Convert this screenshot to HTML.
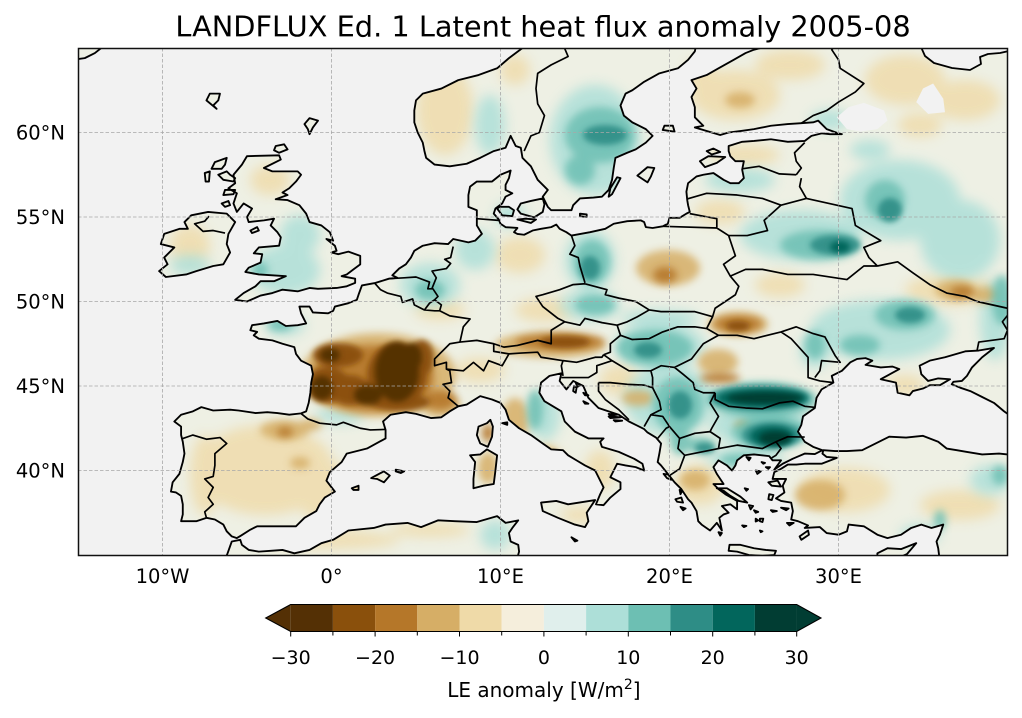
<!DOCTYPE html>
<html><head><meta charset="utf-8"><style>html,body{margin:0;padding:0;background:#fff}svg{display:block}</style></head>
<body>
<svg width="1022" height="718" viewBox="0 0 1022 718" xmlns="http://www.w3.org/2000/svg" font-family="'DejaVu Sans','Liberation Sans',sans-serif">
<defs>
<clipPath id="frameclip"><rect x="78" y="48" width="930" height="508"/></clipPath>
<path id="land" transform="matrix(16.9,0,0,-16.9,331.5,1146.5)" stroke-linejoin="round" d="
M25.4,66 L25.4,65 25.0,64.9 24.5,64.7 23.8,64.3 22.9,63.8 22.2,63.4 21.3,63.1 21.6,62.6 21.3,62.1 21.5,61.5 21.5,60.9 22.0,60.4 21.5,60.3 22.5,60.0 23.0,59.85 23.5,60.0 24.3,60.1 25.0,60.2 26.0,60.4 27.0,60.5 27.8,60.55 28.5,60.6 28.8,60.7 29.3,60.2 30.0,59.95 30.2,59.9 29.5,59.9 29.0,59.95 28.4,59.8 28.0,59.5 27.0,59.45 26.0,59.6 25.0,59.5 24.3,59.45 23.5,59.2 23.5,58.9 23.6,58.6 23.9,58.3 24.4,58.3 24.3,57.8 24.4,57.3 24.1,57.0 23.6,57.0 23.2,57.2 22.6,57.6 22.0,57.5 21.6,57.4 21.1,57.0 21.0,56.5 21.05,56.0 21.1,55.7 21.2,55.3 21.0,55.2 20.6,54.95 20.0,54.95 19.9,54.6 19.6,54.45 19.0,54.35 18.6,54.4 18.5,54.7 18.3,54.8 17.5,54.75 16.7,54.6 16.2,54.3 15.3,54.1 14.2,53.9 13.9,54.1 13.5,54.3 13.3,54.55 13.0,54.4 12.4,54.3 11.9,54.2 11.4,53.95 11.0,54.0 10.8,54.1 11.0,54.35 10.3,54.4 10.0,54.6 9.9,54.85 9.6,55.2 9.7,55.5 10.1,55.8 10.3,56.2 10.7,56.4 10.3,56.6 10.3,56.9 10.5,57.3 10.6,57.75 10.0,57.5 9.5,57.1 8.6,57.1 8.2,56.8 8.1,56.3 8.1,55.6 8.6,55.4 8.6,54.9 8.6,54.5 8.9,54.0 8.5,53.6 8.1,53.5 7.2,53.7 6.9,53.4 6.1,53.45 5.4,53.3 4.9,53.0 4.7,52.6 4.4,52.2 4.0,51.95 3.6,51.55 3.9,51.4 3.4,51.35 2.6,51.1 1.8,50.95 1.6,50.4 1.5,50.1 1.0,49.9 0.2,49.7 0.1,49.45 -0.2,49.3 -1.1,49.35 -1.3,49.7 -1.9,49.7 -1.8,49.3 -1.5,48.7 -2.0,48.6 -2.7,48.55 -3.2,48.85 -4.0,48.7 -4.7,48.6 -4.8,48.3 -4.4,48.2 -4.6,48.0 -4.3,47.8 -3.5,47.7 -2.9,47.5 -2.2,47.3 -2.1,46.9 -1.8,46.5 -1.2,46.2 -1.1,45.7 -1.2,45.2 -1.25,44.6 -1.35,44.0 -1.5,43.5 -1.8,43.38 -2.5,43.3 -3.2,43.4 -3.8,43.45 -4.5,43.4 -5.5,43.55 -6.0,43.6 -7.0,43.55 -7.7,43.75 -8.2,43.5 -8.9,43.3 -9.3,42.9 -8.9,42.6 -8.9,42.1 -8.8,41.7 -8.7,41.0 -8.8,40.5 -9.0,39.8 -9.4,39.3 -9.5,38.75 -9.2,38.7 -8.9,38.5 -8.8,38.0 -8.8,37.4 -8.9,37.0 -8.0,37.0 -7.4,37.2 -6.9,37.1 -6.4,36.8 -6.2,36.4 -5.9,36.1 -5.6,36.0 -5.35,36.15 -4.8,36.5 -4.4,36.7 -3.5,36.7 -2.8,36.7 -2.1,36.7 -1.6,37.2 -0.9,37.6 -0.7,38.0 -0.4,38.4 0.2,38.75 -0.3,39.4 -0.1,39.9 0.6,40.5 0.9,41.0 2.1,41.3 3.2,41.9 3.2,42.4 3.05,42.9 3.5,43.3 4.4,43.45 5.0,43.35 5.9,43.1 6.5,43.15 7.0,43.5 7.5,43.8 8.0,43.9 8.8,44.4 9.5,44.2 10.0,44.0 10.3,43.6 10.5,43.0 11.1,42.5 11.8,42.1 12.5,41.6 13.0,41.25 13.7,41.2 14.0,40.9 14.5,40.6 15.0,40.3 15.6,40.0 15.8,39.6 16.1,39.0 15.9,38.6 15.65,38.0 16.1,37.95 16.5,38.4 17.1,38.9 17.1,39.3 16.5,39.6 16.9,40.4 17.4,40.3 18.0,40.2 18.5,40.0 18.4,40.4 17.9,40.7 17.0,41.1 16.0,41.4 15.9,41.7 16.1,41.9 15.2,41.9 14.4,42.3 13.8,42.9 13.6,43.5 12.6,44.1 12.3,44.6 12.4,45.2 12.9,45.6 13.6,45.75 13.5,45.3 13.9,44.8 14.3,45.3 14.9,45.0 15.2,44.3 15.8,43.7 16.4,43.5 17.0,43.3 17.6,42.9 18.5,42.45 18.7,42.25 19.2,41.95 19.5,41.6 19.4,41.0 19.3,40.5 19.5,40.3 19.9,39.8 20.3,39.3 20.7,38.9 21.1,38.3 21.3,38.1 21.6,37.6 21.7,37.0 21.9,36.8 22.4,36.45 22.8,36.9 23.1,36.45 22.95,37.2 23.2,37.4 23.5,37.5 23.1,37.9 23.6,38.0 24.0,37.7 24.0,38.2 23.3,38.6 22.9,38.9 22.6,39.2 23.2,39.2 22.8,39.8 22.6,40.2 22.9,40.6 23.4,40.3 23.7,40.0 23.9,40.3 24.0,40.6 24.4,40.9 25.0,40.95 25.9,40.85 26.1,40.6 26.6,40.6 26.2,40.05 26.7,40.4 27.3,40.7 28.0,41.0 28.6,40.97 29.05,41.2 28.5,41.4 28.0,41.7 27.6,42.3 27.8,42.7 27.9,43.2 28.6,43.7 28.7,44.3 29.0,44.8 29.7,45.2 29.6,45.6 30.2,45.9 30.7,46.4 31.1,46.6 31.6,46.65 32.0,46.5 31.6,46.25 32.5,46.1 33.2,46.15 33.6,46.0 32.5,45.4 33.4,45.2 33.5,44.6 34.2,44.45 34.4,44.7 35.0,44.85 35.4,45.05 36.0,45.05 36.6,45.4 35.9,45.45 35.3,45.3 34.9,45.7 34.8,46.2 35.4,46.5 36.3,46.7 37.5,47.05 38.3,47.1 39.2,47.25 38.5,46.7 37.9,46.1 37.6,45.6 37.3,45.3 36.8,45.25 36.7,45.1 37.2,44.9 37.8,44.7 38.5,44.35 39.2,44.0 39.8,43.5 40.5,43.0 41,42.8 41,66 Z
M41,41.0 L40.0,40.95 39.5,41.0 38.5,40.95 37.6,41.1 37.0,41.2 36.4,41.3 35.9,41.7 35.0,42.05 34.0,41.95 33.0,42.0 32.2,41.6 31.4,41.2 30.5,41.15 29.8,41.15 29.1,41.2 29.05,41.0 29.3,40.8 29.9,40.75 29.0,40.4 28.0,40.4 27.5,40.35 27.0,40.35 26.6,40.1 26.2,39.9 26.1,39.5 26.9,39.5 26.7,39.1 26.8,38.7 26.3,38.35 26.6,38.2 27.2,38.1 27.3,37.6 27.2,37.1 27.6,37.0 28.2,36.75 28.0,36.6 28.9,36.65 29.3,36.3 30.0,36.2 30.5,36.4 30.6,36.8 31.5,36.7 32.3,36.2 32.9,36.0 33.7,36.2 34.3,36.6 34.9,36.8 35.5,36.6 36.2,36.8 36.0,36.2 35.8,35.8 35.9,35.4 35.95,35.0 35.95,34.5 41,34.5 Z
M11.3,66 L11.3,65.0 10.5,64.4 9.8,63.8 8.7,63.4 7.5,63.1 6.5,62.6 5.4,62.3 5.0,61.9 4.9,61.3 4.9,60.6 5.1,60.0 5.4,59.4 5.5,58.9 5.6,58.5 6.1,58.1 7.0,58.0 8.0,58.15 8.8,58.5 9.6,58.9 10.3,59.1 10.6,59.8 10.9,59.2 11.2,59.1 11.3,58.5 11.8,58.0 12.0,57.6 12.2,57.2 12.8,56.6 12.5,56.2 12.8,55.6 13.0,55.4 14.2,55.4 14.3,55.7 14.7,56.1 15.5,56.15 16.0,56.2 16.4,56.6 16.6,57.2 16.7,57.9 16.8,58.5 17.5,58.8 18.0,59.0 18.6,59.4 19.0,59.8 18.6,60.2 17.8,60.6 17.3,61.0 17.1,61.6 17.4,62.3 17.8,62.5 18.5,63.0 19.4,63.5 20.5,63.8 21.1,64.3 21.5,64.8 21.6,65.3 21.6,66 Z
M-5.0,58.6 L-3.1,58.65 -3.0,58.4 -4.0,57.9 -3.5,57.7 -2.0,57.7 -1.8,57.5 -2.1,57.1 -2.5,56.7 -2.9,56.45 -2.6,56.3 -3.3,56.05 -2.6,56.0 -1.9,55.7 -1.5,55.2 -1.3,54.7 -0.6,54.5 -0.1,54.1 0.1,53.6 -0.3,53.7 0.2,53.3 0.3,53.0 0.0,52.9 0.4,52.8 1.0,52.95 1.7,52.7 1.7,52.2 1.3,51.9 0.9,51.6 0.6,51.5 1.4,51.35 1.4,51.1 0.9,50.9 0.3,50.8 -0.8,50.75 -1.3,50.8 -2.0,50.6 -2.9,50.7 -3.5,50.5 -4.2,50.35 -5.0,50.0 -5.7,50.1 -5.2,50.5 -4.5,50.9 -4.2,51.2 -3.4,51.2 -2.7,51.5 -3.5,51.55 -4.3,51.6 -5.1,51.75 -4.9,52.0 -4.2,52.3 -4.1,52.8 -4.6,52.85 -4.3,53.2 -3.1,53.3 -3.0,53.8 -3.2,54.1 -3.6,54.5 -3.4,54.9 -4.0,54.8 -4.9,54.7 -5.0,55.0 -4.7,55.5 -5.2,55.8 -5.6,55.3 -5.8,55.8 -5.6,56.4 -6.1,56.7 -5.7,57.0 -5.8,57.5 -5.3,58.1 Z
M-7.3,55.3 L-6.2,55.2 -5.7,54.7 -6.1,54.0 -6.2,53.4 -6.0,52.9 -6.4,52.2 -7.0,52.1 -8.0,51.8 -8.6,51.6 -9.8,51.45 -10.2,51.8 -9.7,52.2 -9.9,52.6 -9.3,53.2 -10.1,53.4 -9.9,54.0 -9.0,54.3 -8.5,54.3 -8.7,54.7 -8.3,55.1 Z
M-16,66 L-13.5,66 -13.5,65.1 -14.0,64.7 -14.6,64.4 -16,64.2 Z
M-6.4,34.5 L-6.15,35.1 -5.9,35.8 -5.4,35.9 -5.3,35.6 -4.9,35.3 -4.3,35.2 -3.6,35.25 -2.9,35.3 -2.2,35.1 -1.3,35.3 -0.6,35.7 0.1,35.9 1.0,36.45 2.5,36.6 3.2,36.8 4.5,36.9 5.3,36.65 6.3,37.05 7.3,37.0 8.6,36.95 9.8,37.3 10.3,36.9 11.05,37.05 10.7,36.6 10.5,36.3 10.6,35.8 11.05,35.6 11.1,35.2 10.9,34.5 Z
M-1.3,60.85 L-0.8,60.7 -1.1,60.3 -1.3,59.9 -1.4,60.2 -1.6,60.5Z
M-3.3,59.2 L-2.8,59.3 -2.6,59.0 -3.1,58.8 -3.4,58.95Z
M-7.2,62.3 L-6.6,62.3 -6.7,61.9 -7.0,61.6 -6.8,61.4 -7.4,61.9Z
M-6.2,58.5 L-6.9,58.25 -7.1,57.85 -6.5,57.85 -6.3,58.1Z
M-7.2,57.7 L-7.5,57.6 -7.45,57.1 -7.25,57.1Z
M-6.2,57.7 L-6.7,57.5 -6.4,57.2 -5.8,57.1 -5.7,57.3 -6.0,57.5Z
M-5.7,56.6 L-6.3,56.6 -6.4,56.3 -5.8,56.35Z
M-6.1,55.95 L-6.5,55.8 -6.3,55.6 -6.0,55.7Z
M-4.4,54.4 L-4.8,54.2 -4.7,54.05 -4.3,54.2Z
M9.4,43.0 L9.55,42.6 9.5,42.0 9.25,41.4 8.8,41.6 8.6,42.1 8.7,42.6 9.2,42.8Z
M9.2,41.25 L9.8,40.9 9.7,40.0 9.6,39.2 9.0,39.1 8.4,38.95 8.4,39.5 8.5,40.5 8.2,40.9 8.8,40.95Z
M12.4,38.1 L13.3,38.2 14.0,38.0 15.6,38.25 15.1,37.5 15.2,37.0 15.0,36.65 14.4,36.8 13.4,37.2 12.5,37.6Z
M2.35,39.55 L3.1,39.95 3.45,39.7 3.1,39.3 2.7,39.5Z
M3.8,40.05 L4.3,39.95 4.1,39.85 3.8,39.95Z
M1.2,38.95 L1.6,39.1 1.6,38.85 1.3,38.85Z
M14.2,36.05 L14.55,35.85 14.4,35.8Z
M10.1,42.8 L10.4,42.85 10.4,42.7Z
M23.55,35.6 L24.2,35.6 25.0,35.4 25.7,35.3 26.3,35.25 26.2,35.0 25.5,34.95 24.7,35.0 24.0,35.2 23.5,35.25Z
M32.3,35.1 L32.9,35.4 33.7,35.35 34.6,35.7 34.05,35.05 33.0,34.6 32.3,34.8Z
M27.7,36.1 L28.2,36.45 28.25,36.2 27.8,35.9Z
M22.8,38.95 L23.4,38.95 24.2,38.45 24.6,38.1 24.1,38.2 23.6,38.5 23.2,38.8Z
M25.85,39.3 L26.4,39.4 26.6,39.05 26.05,39.1Z
M25.9,38.6 L26.15,38.55 26.05,38.25 25.85,38.3Z
M26.6,37.8 L27.05,37.75 26.9,37.65Z
M26.0,37.65 L26.35,37.6 26.1,37.55Z
M26.95,36.9 L27.35,36.9 27.1,36.75Z
M25.35,37.15 L25.55,37.15 25.5,36.95 25.35,37.0Z
M25.1,37.15 L25.25,37.05 25.1,36.98Z
M24.7,37.95 L24.95,37.9 24.8,37.7Z
M25.0,37.65 L25.25,37.55 25.1,37.5Z
M24.3,36.75 L24.55,36.72 24.4,36.65Z
M25.35,36.45 L25.5,36.4 25.4,36.35Z
M22.9,36.35 L23.1,36.3 23.0,36.15Z
M20.35,38.3 L20.7,38.4 20.8,38.1 20.45,38.15Z
M20.65,37.85 L20.95,37.75 20.8,37.65Z
M19.65,39.8 L19.95,39.75 20.1,39.45 19.85,39.55Z
M20.6,38.85 L20.75,38.8 20.65,38.6Z
M24.55,40.8 L24.8,40.75 24.7,40.6Z
M25.1,40.0 L25.4,39.95 25.2,39.8Z
M24.45,38.95 L24.65,38.9 24.55,38.8Z
M25.45,40.5 L25.65,40.45 25.55,40.4Z
M25.7,40.2 L25.95,40.2 25.85,40.1Z
M14.45,45.2 L14.75,45.05 14.55,44.95Z
M14.35,45.0 L14.5,44.9 14.45,44.6 14.3,44.7Z
M14.9,44.6 L15.2,44.45 15.0,44.45Z
M16.4,43.35 L16.9,43.3 16.5,43.25Z
M16.4,43.2 L17.1,43.15 16.5,43.1Z
M16.7,42.98 L17.2,42.95 16.8,42.9Z
M14.9,44.1 L15.2,43.95 15.0,43.95Z
M18.1,57.45 L18.7,57.05 18.9,57.4 19.1,57.9 18.7,57.95 18.4,57.7Z
M16.4,56.2 L16.6,56.35 17.1,57.3 16.9,57.35 16.5,56.7Z
M14.7,55.2 L15.1,55.15 15.1,55.0 14.7,55.05Z
M11.0,55.45 L11.2,55.2 12.0,54.98 12.5,55.3 12.6,55.75 12.5,56.1 11.8,55.95 11.2,55.8Z
M9.8,55.5 L10.1,55.1 10.7,55.05 10.8,55.4 10.5,55.6 9.95,55.6Z
M11.0,54.85 L11.8,54.65 12.1,54.85 11.5,54.9Z
M21.8,58.3 L22.3,58.6 23.3,58.55 22.8,58.2 22.1,57.95Z
M22.2,58.9 L22.6,59.05 23.0,58.85 22.5,58.7Z
M19.6,60.15 L20.3,60.05 20.2,60.4 19.7,60.4Z
"/>
<clipPath id="landclip"><use href="#land"/></clipPath>
<filter id="b6" x="-20%" y="-20%" width="140%" height="140%"><feGaussianBlur stdDeviation="6"/></filter>
<filter id="b4" x="-20%" y="-20%" width="140%" height="140%"><feGaussianBlur stdDeviation="4"/></filter>
<filter id="b3" x="-20%" y="-20%" width="140%" height="140%"><feGaussianBlur stdDeviation="3"/></filter>
</defs>

<rect width="1022" height="718" fill="#fff"/>
<text x="543" y="36.5" font-size="28.8" text-anchor="middle" fill="#000">LANDFLUX Ed. 1 Latent heat flux anomaly 2005-08</text>

<g clip-path="url(#frameclip)">
<rect x="78" y="48" width="930" height="508" fill="#f2f2f2"/>
<g clip-path="url(#landclip)">
<rect x="60" y="40" width="960" height="520" fill="#eef0e4"/>
<g filter="url(#b6)" fill="#efdaa8" opacity="0.8">
<ellipse cx="445" cy="110" rx="28" ry="45"/><ellipse cx="515" cy="70" rx="15" ry="15"/><ellipse cx="735" cy="95" rx="45" ry="25"/><ellipse cx="790" cy="65" rx="35" ry="15"/><ellipse cx="700" cy="75" rx="15" ry="15"/><ellipse cx="905" cy="80" rx="40" ry="25"/><ellipse cx="965" cy="100" rx="35" ry="20"/><ellipse cx="920" cy="125" rx="22" ry="12"/><ellipse cx="745" cy="155" rx="35" ry="10"/><ellipse cx="720" cy="212" rx="25" ry="12"/><ellipse cx="520" cy="255" rx="25" ry="18"/><ellipse cx="545" cy="310" rx="30" ry="12"/><ellipse cx="440" cy="310" rx="25" ry="10"/><ellipse cx="265" cy="470" rx="70" ry="45"/><ellipse cx="340" cy="495" rx="45" ry="30"/><ellipse cx="205" cy="475" rx="15" ry="40"/><ellipse cx="330" cy="540" rx="70" ry="9"/><ellipse cx="430" cy="530" rx="40" ry="7"/><ellipse cx="540" cy="470" rx="25" ry="25"/><ellipse cx="600" cy="470" rx="15" ry="20"/><ellipse cx="580" cy="515" rx="20" ry="8"/><ellipse cx="780" cy="285" rx="25" ry="12"/><ellipse cx="950" cy="290" rx="45" ry="15"/><ellipse cx="845" cy="490" rx="45" ry="22"/><ellipse cx="960" cy="505" rx="40" ry="15"/><ellipse cx="700" cy="485" rx="25" ry="20"/><ellipse cx="905" cy="385" rx="20" ry="10"/><ellipse cx="190" cy="245" rx="20" ry="20"/><ellipse cx="270" cy="180" rx="20" ry="15"/><ellipse cx="620" cy="380" rx="20" ry="15"/><ellipse cx="480" cy="370" rx="25" ry="12"/>
</g>
<g filter="url(#b6)" fill="#addfd8" opacity="0.85">
<ellipse cx="285" cy="270" rx="35" ry="25"/><ellipse cx="260" cy="265" rx="12" ry="10"/><ellipse cx="300" cy="235" rx="20" ry="20"/><ellipse cx="190" cy="265" rx="20" ry="10"/><ellipse cx="285" cy="325" rx="20" ry="10"/><ellipse cx="430" cy="285" rx="30" ry="22"/><ellipse cx="510" cy="215" rx="15" ry="12"/><ellipse cx="595" cy="140" rx="45" ry="55"/><ellipse cx="490" cy="125" rx="15" ry="30"/><ellipse cx="740" cy="180" rx="35" ry="12"/><ellipse cx="800" cy="235" rx="60" ry="25"/><ellipse cx="900" cy="200" rx="60" ry="40"/><ellipse cx="960" cy="240" rx="40" ry="40"/><ellipse cx="880" cy="330" rx="70" ry="30"/><ellipse cx="590" cy="305" rx="30" ry="15"/><ellipse cx="660" cy="345" rx="45" ry="22"/><ellipse cx="670" cy="400" rx="45" ry="35"/><ellipse cx="545" cy="415" rx="15" ry="25"/><ellipse cx="745" cy="458" rx="40" ry="10"/><ellipse cx="990" cy="480" rx="20" ry="15"/><ellipse cx="920" cy="535" rx="20" ry="10"/><ellipse cx="495" cy="535" rx="15" ry="15"/><ellipse cx="340" cy="415" rx="25" ry="8"/><ellipse cx="475" cy="250" rx="20" ry="20"/><ellipse cx="590" cy="260" rx="25" ry="30"/><ellipse cx="830" cy="120" rx="20" ry="10"/><ellipse cx="995" cy="320" rx="15" ry="40"/><ellipse cx="660" cy="318" rx="40" ry="8"/><ellipse cx="870" cy="150" rx="20" ry="10"/><ellipse cx="815" cy="350" rx="15" ry="18"/><ellipse cx="760" cy="425" rx="50" ry="22"/>
</g>
<g filter="url(#b4)" fill="#d6ae66" opacity="0.85">
<ellipse cx="668" cy="268" rx="32" ry="18"/><ellipse cx="285" cy="430" rx="25" ry="10"/><ellipse cx="310" cy="425" rx="12" ry="6"/><ellipse cx="515" cy="420" rx="14" ry="22"/><ellipse cx="548" cy="462" rx="12" ry="15"/><ellipse cx="488" cy="468" rx="10" ry="16"/><ellipse cx="955" cy="290" rx="20" ry="10"/><ellipse cx="718" cy="362" rx="20" ry="13"/><ellipse cx="820" cy="495" rx="25" ry="15"/><ellipse cx="695" cy="480" rx="15" ry="10"/><ellipse cx="638" cy="398" rx="16" ry="8"/><ellipse cx="378" cy="375" rx="78" ry="42"/><ellipse cx="550" cy="345" rx="55" ry="13"/><ellipse cx="738" cy="324" rx="30" ry="12"/><ellipse cx="985" cy="295" rx="15" ry="8"/><ellipse cx="740" cy="100" rx="15" ry="8"/><ellipse cx="300" cy="463" rx="10" ry="6"/><ellipse cx="440" cy="405" rx="20" ry="12"/><ellipse cx="743" cy="425" rx="8" ry="5"/>
</g>
<g filter="url(#b4)" fill="#6dbfb3" opacity="0.85">
<ellipse cx="600" cy="135" rx="35" ry="28"/><ellipse cx="580" cy="170" rx="15" ry="15"/><ellipse cx="592" cy="262" rx="18" ry="22"/><ellipse cx="820" cy="245" rx="40" ry="15"/><ellipse cx="885" cy="200" rx="20" ry="20"/><ellipse cx="1002" cy="300" rx="10" ry="25"/><ellipse cx="905" cy="315" rx="30" ry="15"/><ellipse cx="860" cy="345" rx="20" ry="10"/><ellipse cx="595" cy="305" rx="20" ry="10"/><ellipse cx="655" cy="348" rx="38" ry="18"/><ellipse cx="678" cy="405" rx="25" ry="28"/><ellipse cx="762" cy="400" rx="55" ry="18"/><ellipse cx="770" cy="432" rx="38" ry="16"/><ellipse cx="700" cy="445" rx="15" ry="8"/><ellipse cx="535" cy="410" rx="8" ry="20"/><ellipse cx="280" cy="325" rx="12" ry="6"/><ellipse cx="430" cy="290" rx="15" ry="10"/><ellipse cx="680" cy="440" rx="10" ry="15"/><ellipse cx="1000" cy="475" rx="8" ry="10"/><ellipse cx="940" cy="520" rx="6" ry="10"/><ellipse cx="260" cy="270" rx="8" ry="8"/><ellipse cx="815" cy="345" rx="10" ry="14"/><ellipse cx="740" cy="460" rx="20" ry="6"/>
</g>
<g filter="url(#b4)" fill="#b57729" opacity="0.9">
<ellipse cx="372" cy="378" rx="62" ry="33"/><ellipse cx="440" cy="400" rx="16" ry="10"/><ellipse cx="560" cy="342" rx="45" ry="8"/><ellipse cx="738" cy="324" rx="24" ry="8"/><ellipse cx="665" cy="275" rx="12" ry="8"/><ellipse cx="720" cy="378" rx="20" ry="5"/><ellipse cx="488" cy="433" rx="6" ry="9"/><ellipse cx="962" cy="292" rx="12" ry="6"/><ellipse cx="285" cy="432" rx="8" ry="5"/>
</g>
<g filter="url(#b3)" fill="#2e8d86" opacity="0.9">
<ellipse cx="605" cy="135" rx="22" ry="10"/><ellipse cx="590" cy="268" rx="10" ry="12"/><ellipse cx="835" cy="245" rx="25" ry="10"/><ellipse cx="890" cy="210" rx="12" ry="12"/><ellipse cx="910" cy="315" rx="15" ry="8"/><ellipse cx="680" cy="405" rx="12" ry="14"/><ellipse cx="648" cy="350" rx="14" ry="8"/><ellipse cx="760" cy="398" rx="50" ry="13"/><ellipse cx="772" cy="435" rx="30" ry="13"/><ellipse cx="705" cy="448" rx="10" ry="5"/>
</g>
<g filter="url(#b3)" fill="#8a500c" opacity="0.95">
<ellipse cx="328" cy="385" rx="22" ry="18"/><ellipse cx="338" cy="355" rx="25" ry="12"/><ellipse cx="397" cy="375" rx="30" ry="32"/><ellipse cx="400" cy="402" rx="30" ry="9"/><ellipse cx="350" cy="390" rx="20" ry="15"/><ellipse cx="422" cy="358" rx="12" ry="18"/><ellipse cx="565" cy="342" rx="25" ry="6"/><ellipse cx="738" cy="326" rx="12" ry="5"/>
</g>
<g filter="url(#b3)" fill="#02665c">
<ellipse cx="762" cy="398" rx="45" ry="9"/><ellipse cx="772" cy="436" rx="22" ry="10"/><ellipse cx="840" cy="247" rx="10" ry="6"/>
</g>
<g filter="url(#b3)" fill="#543005">
<ellipse cx="397" cy="372" rx="22" ry="30"/><ellipse cx="412" cy="357" rx="10" ry="14"/><ellipse cx="322" cy="388" rx="11" ry="12"/><ellipse cx="368" cy="395" rx="14" ry="10"/><ellipse cx="330" cy="355" rx="10" ry="7"/>
</g>
<g filter="url(#b3)" fill="#013d33">
<ellipse cx="765" cy="398" rx="38" ry="6"/><ellipse cx="775" cy="438" rx="16" ry="7"/>
</g>
</g>
<g transform="matrix(16.9,0,0,-16.9,331.5,1146.5)" fill="#f2f2f2">
<path d="M29.9,60.9 L30.6,61.5 31.5,61.75 32.7,61.3 32.9,60.7 32.3,60.2 31.3,60.05 30.5,60.2Z"/>
<path d="M34.6,61.8 L35.3,61.1 36.3,61.2 36.2,62.0 35.6,62.9 35.0,62.6Z"/>
</g>
<path d="M921,47 L925,56 934,63 952,68 970,70 981,64 980,57 988,54 1000,53 1009,51 1009,47Z" fill="#f2f2f2" stroke="#000" stroke-width="1.8" stroke-linejoin="round"/>
<use href="#land" fill="none" stroke="#000" stroke-width="0.11"/>
<path transform="matrix(16.9,0,0,-16.9,331.5,1146.5)" fill="none" stroke="#000" stroke-width="0.1" stroke-linejoin="round" d="
M-8.87,41.87 L-8.2,42.1 -7.4,41.85 -6.6,41.95 -6.2,41.6 -6.9,41.0 -6.9,40.3 -7.0,39.65 -7.5,39.5 -7.0,39.0 -7.3,38.4 -7.0,38.0 -7.5,37.55 -7.4,37.2
M-1.8,43.37 L-1.4,43.05 -0.7,42.8 0.3,42.7 0.7,42.85 1.4,42.6 1.7,42.5 2.3,42.4 3.17,42.43
M2.55,51.09 L2.9,50.7 3.3,50.5 4.1,50.3 4.2,49.95 4.8,50.15 4.9,49.8 5.5,49.5 6.1,49.45 6.4,49.45 7.0,49.15 8.2,48.97 7.8,48.5 7.6,47.6 7.0,47.5 6.8,47.3 6.1,46.6 6.1,46.2 6.8,46.4 6.8,46.0 7.0,45.9 7.1,45.2 6.6,45.1 7.0,44.7 6.9,44.3 7.5,43.8
M3.4,51.35 L4.3,51.4 5.0,51.45 5.8,51.15 5.7,50.75 6.0,50.75 6.3,50.3 6.1,50.1 6.5,49.8 6.4,49.45
M5.5,49.5 L5.8,49.9 6.1,50.1
M5.95,50.78 L6.2,51.4 5.95,51.8 6.8,51.95 7.05,52.25 6.7,52.5 7.05,52.6 7.2,53.25
M8.6,54.9 L9.9,54.8
M14.2,53.9 L14.4,53.3 14.1,52.8 14.6,52.6 14.7,52.1 15.0,51.1
M15.0,51.05 L14.3,51.0 13.5,50.7 12.5,50.4 12.1,50.3 12.5,49.7 13.4,49.0 13.8,48.8 13.0,48.3 13.0,47.5 12.2,47.7 11.0,47.4 10.2,47.3 9.6,47.5 8.6,47.7 7.6,47.6
M15.0,51.05 L16.3,50.7 16.2,50.4 17.0,50.2 18.0,50.0 18.8,49.5
M6.8,46.0 L7.8,45.9 8.4,46.4 9.0,45.9 9.3,46.5 10.1,46.2 10.5,46.9 11.2,46.95 12.2,47.0 12.4,46.7 13.7,46.5 14.5,46.4 15.6,46.7 16.0,46.7 16.1,46.85
M10.5,46.9 L9.6,47.05 9.6,47.5
M13.7,46.5 L13.6,46.2 13.7,45.6
M13.8,48.8 L14.7,48.6 15.0,49.0 16.0,48.75 16.9,48.6 17.1,48.0 16.5,47.5 16.5,47.0 16.1,46.85
M16.9,48.6 L17.5,48.8 18.1,49.1 18.8,49.5
M18.8,49.5 L19.5,49.4 20.5,49.4 21.5,49.4 22.55,49.1 22.2,48.4
M17.1,48.0 L17.8,47.75 18.8,47.8 19.6,48.2 20.5,48.5 21.5,48.5 22.2,48.4 22.9,48.0 22.0,47.5 21.3,46.6 20.3,46.1 19.5,46.2 18.9,45.9 17.6,45.9 16.6,46.5 16.1,46.85
M13.6,45.5 L14.5,45.5 15.2,45.5 15.7,45.8 15.7,46.2 16.6,46.5
M15.8,45.2 L16.5,45.2 17.5,45.1 18.5,45.05 19.0,44.9 19.4,44.1 19.5,43.6 18.9,43.3 18.5,42.6
M15.8,45.2 L15.8,44.7 16.2,44.2 17.0,43.6 17.6,43.0
M18.9,45.9 L19.0,45.5 19.0,44.9
M20.3,46.1 L20.8,45.7 21.4,45.2 21.5,44.8 22.0,44.6 22.7,44.6
M22.7,44.6 L22.4,44.0 22.9,43.2 22.5,42.5 22.4,42.3
M22.4,42.3 L21.5,42.2 20.6,41.9 20.0,42.6 19.6,43.2 18.9,43.3
M19.3,41.9 L19.8,42.5 20.0,42.6
M20.6,41.9 L20.5,41.3 20.9,40.9 20.6,40.1 20.0,39.7
M20.9,40.9 L21.9,41.1 22.9,41.3 23.0,41.9 22.4,42.3
M22.9,41.3 L24.0,41.5 25.5,41.3 26.3,41.7
M26.3,41.7 L26.6,41.3 26.3,40.9 26.05,40.75
M26.3,41.7 L27.0,42.0 28.0,41.98
M22.7,44.6 L22.7,44.2 23.5,43.8 24.5,43.7 25.5,43.65 26.5,44.0 27.3,44.1 28.0,43.8 28.58,43.74
M22.9,48.0 L24.0,48.0 25.0,47.8 26.6,48.2 27.2,47.8 28.2,46.7 28.2,45.5 28.9,45.3 29.7,45.2
M26.6,48.2 L27.5,48.5 28.5,48.1 29.2,47.9 29.8,46.8 30.1,46.4 29.0,46.5 28.9,45.9 28.6,45.5
M22.55,49.1 L22.7,49.6 23.9,50.4 24.1,50.9 23.6,51.5 23.2,52.2 23.9,52.7 23.5,53.9 22.8,54.35 19.6,54.45
M22.8,54.35 L22.8,54.9 22.0,55.05 21.2,55.2
M23.5,53.9 L24.6,53.9 25.8,54.2 25.6,54.8 26.6,55.7
M21.05,56.07 L22.2,56.4 24.0,56.3 25.5,56.1 26.6,55.7
M26.6,55.7 L28.1,56.1 27.7,56.8 27.8,57.3
M24.3,57.85 L25.3,58.0 26.5,57.55 27.5,57.5
M27.5,57.5 L27.8,57.9 27.5,58.3 27.4,58.8 28.0,59.4
M23.6,51.5 L24.5,51.9 25.5,51.9 27.0,51.6 28.5,51.6 30.5,51.3 31.5,52.1 32.3,52.1
M32.3,52.1 L31.8,52.6 31.5,53.2 32.5,53.6 31.0,54.5 30.8,55.5 28.1,56.1
M32.3,52.1 L33.5,52.35 34.4,51.7 35.4,51.0 36.4,50.5 37.5,50.3 38.2,50.0 40.0,49.6 40.1,49.3 39.7,48.8 40.0,48.3 39.8,47.8 38.3,47.6 38.2,47.1
M27.8,60.55 L28.5,61.0 29.3,61.3 30.0,61.8 31.0,62.4 31.5,62.9 30.1,63.8 30.0,64.3 29.6,64.9 29.9,65.2
M11.4,58.9 L11.8,59.8 12.3,60.0 12.6,61.0 12.2,61.7 12.1,62.6 12.2,63.5 13.0,64.0 14.0,64.5 13.7,65.2
M-7.25,55.05 L-7.5,54.75 -8.1,54.6 -7.6,54.15 -7.0,54.2 -6.3,54.05
"/>
<g stroke="#a8a8a8" stroke-width="0.8" stroke-dasharray="3.5 2" fill="none">
<path d="M162.5,48V556M331.5,48V556M500.5,48V556M669.5,48V556M838.5,48V556"/>
<path d="M78,132.5H1008M78,217H1008M78,301.5H1008M78,386H1008M78,470.5H1008"/>
</g>
</g>
<rect x="78.5" y="48.5" width="929" height="507" fill="none" stroke="#111" stroke-width="1.5"/>

<g font-size="19.5" fill="#000">
<g text-anchor="end">
<text x="65" y="139.5">60°N</text>
<text x="65" y="224">55°N</text>
<text x="65" y="308.5">50°N</text>
<text x="65" y="393">45°N</text>
<text x="65" y="477.5">40°N</text>
</g>
<g text-anchor="middle">
<text x="162.5" y="583">10°W</text>
<text x="331.5" y="583">0°</text>
<text x="500.5" y="583">10°E</text>
<text x="669.5" y="583">20°E</text>
<text x="838.5" y="583">30°E</text>
</g>
</g>

<g>
<path d="M290.7,604.5 L265.7,618 290.7,631.5Z" fill="#543005"/>
<path d="M796.7,604.5 L821,618 796.7,631.5Z" fill="#013d33"/>
<rect x="290.7" y="604.5" width="42.2" height="27" fill="#543005"/>
<rect x="332.9" y="604.5" width="42.2" height="27" fill="#8a500c"/>
<rect x="375.1" y="604.5" width="42.2" height="27" fill="#b57729"/>
<rect x="417.3" y="604.5" width="42.2" height="27" fill="#d6ae66"/>
<rect x="459.5" y="604.5" width="42.2" height="27" fill="#efdaa8"/>
<rect x="501.7" y="604.5" width="42.2" height="27" fill="#f5eedc"/>
<rect x="543.9" y="604.5" width="42.2" height="27" fill="#e0efec"/>
<rect x="586.1" y="604.5" width="42.2" height="27" fill="#addfd8"/>
<rect x="628.3" y="604.5" width="42.2" height="27" fill="#6dbfb3"/>
<rect x="670.5" y="604.5" width="42.2" height="27" fill="#2e8d86"/>
<rect x="712.7" y="604.5" width="42.2" height="27" fill="#02665c"/>
<rect x="754.9" y="604.5" width="42" height="27" fill="#013d33"/>
<path d="M290.7,604.5 L265.7,618 290.7,631.5 796.7,631.5 821,618 796.7,604.5Z" fill="none" stroke="#000" stroke-width="1.1" stroke-linejoin="miter"/>
<path stroke="#000" stroke-width="1" d="M290.7,631.5v5M332.9,631.5v4M375.1,631.5v5M417.3,631.5v4M459.5,631.5v5M501.7,631.5v4M543.9,631.5v5M586.1,631.5v4M628.3,631.5v5M670.5,631.5v4M712.7,631.5v5M754.9,631.5v4M796.7,631.5v5"/>
<g font-size="19" text-anchor="middle" fill="#000">
<text x="290.7" y="664">−30</text>
<text x="375.1" y="664">−20</text>
<text x="459.5" y="664">−10</text>
<text x="543.9" y="664">0</text>
<text x="628.3" y="664">10</text>
<text x="712.7" y="664">20</text>
<text x="796.7" y="664">30</text>
</g>
<text x="543.9" y="697" font-size="20" text-anchor="middle" fill="#000">LE anomaly [W/m<tspan dy="-8" font-size="14">2</tspan><tspan dy="8">]</tspan></text>
</g>
</svg>
</body></html>
